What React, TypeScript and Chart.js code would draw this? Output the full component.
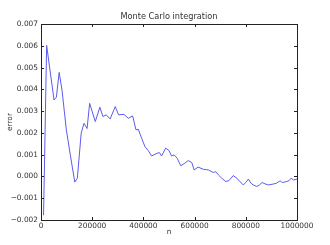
import React, { useEffect, useRef } from "react";
import { Chart, registerables } from "chart.js";

Chart.register(...registerables);

const chartTitle = "Monte Carlo integration";
const xAxisLabel = "n";
const yAxisLabel = "error";

const nValues = [
  10000, 22000, 51000, 60000, 71000, 82000, 99000, 115000, 132000, 142000,
  157000, 168000, 180000, 190000, 212000, 230000, 242000, 255000, 270000, 290000,
  303000, 324000, 341000, 358000, 371000, 380000, 393000, 406000, 419000, 432000,
  449000, 462000, 471000, 487000, 500000, 510000, 520000, 532000, 546000, 562000,
  575000, 589000, 598000, 614000, 634000, 654000, 673000, 682000, 693000, 706000,
  721000, 734000, 751000, 765000, 777000, 790000, 800000, 810000, 820000, 829000,
  843000, 853000, 864000, 875000, 888000, 907000, 920000, 934000, 943000, 960000,
  969000, 977000, 986000, 1000000,
];

const errorValues = [
  -0.00178, 0.00602, 0.00351, 0.00364, 0.00478, 0.00397, 0.00214, 0.00095, -0.00026, -0.00008,
  0.00199, 0.00244, 0.0022, 0.00336, 0.00252, 0.00318, 0.00275, 0.00283, 0.00264, 0.00321,
  0.00283, 0.00285, 0.00267, 0.00278, 0.00214, 0.00217, 0.00176, 0.00137, 0.00119, 0.00094,
  0.00104, 0.0011, 0.00094, 0.0013, 0.00119, 0.00094, 0.00099, 0.00084, 0.00049, 0.00061,
  0.00073, 0.00064, 0.0003, 0.00043, 0.00033, 0.0003, 0.00018, 0.00022, 0.00007, -0.00008,
  -0.00023, -0.00019, 0.00004, -0.00008, -0.00023, -0.00039, -0.00028, -0.00012, -0.00031, -0.00039,
  -0.00046, -0.00039, -0.00028, -0.00034, -0.00039, -0.00035, -0.00031, -0.0002, -0.00028, -0.00023,
  -0.00019, -0.00008, -0.00016, -0.00012,
];

const xMin = 0;
const xMax = 1000000;
const xStep = 200000;
const yMin = -0.002;
const yMax = 0.007;
const yStep = 0.001;

const FONT = "'DejaVu Sans', sans-serif";
const TEXT = "#333";

const framePlugin = {
  id: "frameTicks",
  afterDraw(chart: any) {
    const { ctx, chartArea } = chart;
    const { left, right, top, bottom } = chartArea;
    const xs = chart.scales.x;
    const ys = chart.scales.y;
    ctx.save();
    ctx.strokeStyle = "#222";
    ctx.lineWidth = 1;
    const L = 3;
    ctx.beginPath();
    xs.ticks.forEach((t: any) => {
      const px = Math.round(xs.getPixelForValue(t.value)) + 0.5;
      ctx.moveTo(px, bottom);
      ctx.lineTo(px, bottom - L);
      ctx.moveTo(px, top);
      ctx.lineTo(px, top + L);
    });
    ys.ticks.forEach((t: any) => {
      const py = Math.round(ys.getPixelForValue(t.value)) + 0.5;
      ctx.moveTo(left, py);
      ctx.lineTo(left + L, py);
      ctx.moveTo(right, py);
      ctx.lineTo(right - L, py);
    });
    ctx.stroke();
    ctx.strokeRect(Math.round(left) + 0.5, Math.round(top) + 0.5, Math.round(right - left), Math.round(bottom - top));
    ctx.restore();
  },
};

export default function App() {
  const canvasRef = useRef<HTMLCanvasElement | null>(null);

  useEffect(() => {
    if (!canvasRef.current) return;
    const data = nValues.map((n, i) => ({ x: n, y: errorValues[i] }));
    const chart = new Chart(canvasRef.current, {
      type: "line",
      data: {
        datasets: [
          {
            data,
            borderColor: "#5b5bec",
            borderWidth: 1,
            pointRadius: 0,
            tension: 0,
            fill: false,
          },
        ],
      },
      options: {
        animation: false,
        responsive: true,
        maintainAspectRatio: false,
        layout: { padding: { left: 0, right: 33, top: 0, bottom: 0 } },
        plugins: {
          legend: { display: false },
          tooltip: { enabled: false },
          title: {
            display: true,
            text: chartTitle,
            fullSize: false,
            color: TEXT,
            font: { family: FONT, size: 8.2, weight: "normal" },
            padding: { top: 12, bottom: 2.2 },
          },
        },
        scales: {
          x: {
            type: "linear",
            min: xMin,
            max: xMax,
            grid: { display: false, drawTicks: false },
            border: { display: false },
            ticks: {
              stepSize: xStep,
              color: TEXT,
              font: { family: FONT, size: 7.4 },
              padding: 2,
              maxRotation: 0,
              callback: (v: any) => String(v),
            },
            title: {
              display: true,
              text: xAxisLabel,
              color: TEXT,
              font: { family: FONT, size: 7.4 },
              padding: { top: 0, bottom: 8 },
            },
            afterFit: (s: any) => {
              s.height = 25;
            },
          },
          y: {
            type: "linear",
            min: yMin,
            max: yMax,
            grid: { display: false, drawTicks: false },
            border: { display: false },
            ticks: {
              stepSize: yStep,
              color: TEXT,
              font: { family: FONT, size: 7.4 },
              padding: 3,
              callback: (v: any) => Number(v).toFixed(3).replace("-", "\u2212"),
            },
            title: {
              display: true,
              text: yAxisLabel,
              color: TEXT,
              font: { family: FONT, size: 7.4 },
              padding: { top: 6, bottom: 0 },
            },
            afterFit: (s: any) => {
              s.width = 41;
            },
          },
        },
      },
      plugins: [framePlugin],
    });
    return () => chart.destroy();
  }, []);

  return (
    <div style={{ position: "fixed", left: 0, top: 0, width: 330, height: 245, background: "#fff" }}>
      <canvas ref={canvasRef} />
    </div>
  );
}
